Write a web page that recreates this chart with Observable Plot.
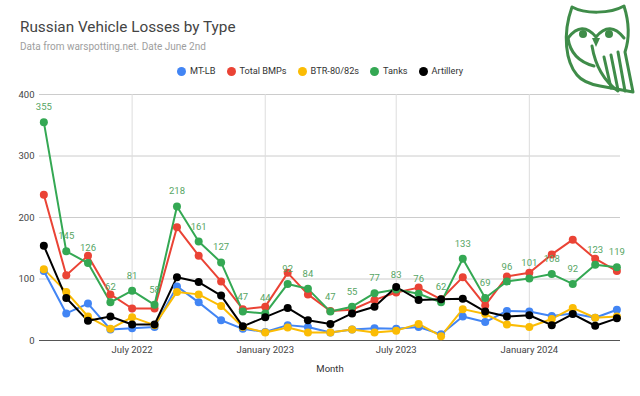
<!DOCTYPE html>
<html>
<head>
<meta charset="utf-8">
<script src="https://cdn.jsdelivr.net/npm/d3@7"></script>
<script src="https://cdn.jsdelivr.net/npm/@observablehq/plot@0.6"></script>
<style>
  html, body { margin: 0; padding: 0; background: #fff; }
  #wrap { position: relative; width: 640px; height: 396px; overflow: hidden; font-family: Roboto, "Noto Sans", sans-serif; }
  #title { position: absolute; left: 20px; top: 20px; font-size: 15.3px; line-height: 1; color: #444; white-space: nowrap; }
  #subtitle { position: absolute; left: 20px; top: 41.5px; font-size: 10px; line-height: 1; color: #9e9e9e; white-space: nowrap; }
  #legend { position: absolute; left: 0; top: 65px; width: 640px; display: flex; justify-content: center; align-items: center; font-size: 9.2px; line-height: 12px; color: #333; }
  .item { display: flex; align-items: center; margin: 0 5.5px; }
  .sw { width: 9px; height: 9px; border-radius: 50%; margin-right: 4px; }
  #chart { position: absolute; left: 0; top: 85px; }
  #owl { position: absolute; left: 555px; top: 0; }
</style>
</head>
<body>
<div id="wrap">
  <div id="title"></div>
  <div id="subtitle"></div>
  <div id="legend"></div>
  <div id="chart"></div>
  <svg id="owl" width="85" height="100" viewBox="555 0 85 100">
    <g fill="none" stroke="#3f8c49" stroke-width="3" stroke-linejoin="round" stroke-linecap="round">
      <path d="M572,7 C585,14 610,14 624,6 C630,25 629,40 625,52 L633,92 L600,86 C589,84 581,80 577,75 C566,62 562,35 572,7 Z"/>
      <path d="M568,38 Q582,20 596,37 Q610,20 624,38"/>
      <path d="M568,38 Q571,60 594,66"/>
      <path d="M592,46 Q597,76 618,91"/>
      <path d="M604,57 L611,88"/>
      <path d="M611,55 L618,90"/>
      <path d="M618,52 L625,91"/>
    </g>
    <g fill="#3f8c49">
      <circle cx="583" cy="34" r="4"/>
      <circle cx="609" cy="34" r="4"/>
      <path d="M592,38 L596,47 L600,38 Z"/>
    </g>
  </svg>
</div>
<script>
const titleText = "Russian Vehicle Losses by Type";
const subtitleText = "Data from warspotting.net. Date June 2nd";
const xAxisLabel = "Month";

const months = ["2022-03","2022-04","2022-05","2022-06","2022-07","2022-08","2022-09","2022-10","2022-11","2022-12",
  "2023-01","2023-02","2023-03","2023-04","2023-05","2023-06","2023-07","2023-08","2023-09","2023-10","2023-11","2023-12",
  "2024-01","2024-02","2024-03","2024-04","2024-05"];

const seriesNames = ["MT-LB", "Total BMPs", "BTR-80/82s", "Tanks", "Artillery"];
const seriesColors = ["#4285F4", "#EA4335", "#FBBC04", "#34A853", "#000000"];

const mtlb      = [113,44,60,18,20,22,88,62,33,19,14,25,22,13,18,20,19,22,10,39,30,48,47,40,44,37,50];
const bmps      = [237,106,138,75,52,52,184,138,96,51,55,110,75,48,50,66,78,86,67,103,57,104,110,140,164,133,113];
const btr       = [116,79,39,19,38,25,79,75,56,22,13,21,13,13,18,13,16,27,7,51,43,26,22,35,53,37,39];
const tanks     = [355,145,126,62,81,58,218,161,127,47,44,92,84,47,55,77,83,76,62,133,69,96,101,108,92,123,119];
const artillery = [154,69,32,39,26,26,103,95,73,23,38,53,33,27,44,55,87,66,67,68,47,39,41,25,43,24,36];

const yTicks = [0, 100, 200, 300, 400];
const xTickMonths = ["2022-07", "2023-01", "2023-07", "2024-01"];

const parse = d3.utcParse("%Y-%m");
const dates = months.map(parse);
const xTicks = xTickMonths.map(parse);
const seriesValues = [mtlb, bmps, btr, tanks, artillery];

const table = [];
seriesNames.forEach((name, s) => {
  seriesValues[s].forEach((v, i) => table.push({series: name, date: dates[i], value: v}));
});
const tankRows = tanks.map((v, i) => ({date: dates[i], value: v}));

document.getElementById("title").textContent = titleText;
document.getElementById("subtitle").textContent = subtitleText;
const legend = document.getElementById("legend");
seriesNames.forEach((name, i) => {
  const item = document.createElement("div");
  item.className = "item";
  const sw = document.createElement("span");
  sw.className = "sw";
  sw.style.background = seriesColors[i];
  const t = document.createElement("span");
  t.textContent = name;
  item.append(sw, t);
  legend.append(item);
});

const chart = Plot.plot({
  width: 640,
  height: 311,
  marginTop: 9,
  marginBottom: 56,
  marginLeft: 39,
  marginRight: 20,
  style: {fontFamily: "Roboto, sans-serif", fontSize: "9.5px", color: "#444", background: "transparent"},
  x: {type: "utc", domain: [new Date(Date.UTC(2022, 1, 23)), new Date(Date.UTC(2024, 4, 6))]},
  y: {domain: [0, 400]},
  color: {domain: seriesNames, range: seriesColors},
  marks: [
    Plot.gridY(yTicks.slice(1), {stroke: "#cccccc", strokeOpacity: 1}),
    Plot.gridX(xTicks, {stroke: "#dddddd", strokeOpacity: 1}),
    Plot.axisY(yTicks, {tickSize: 0, tickPadding: 5, label: null}),
    Plot.axisX(xTicks, {tickSize: 0, tickPadding: 6, tickFormat: d3.utcFormat("%B %Y"), label: null}),
    Plot.ruleY([0], {stroke: "#555", strokeWidth: 1}),
    Plot.text([xAxisLabel], {frameAnchor: "bottom", dy: 31, fill: "#333"}),
    Plot.line(table, {x: "date", y: "value", z: "series", stroke: "series", strokeWidth: 2}),
    Plot.dot(table, {x: "date", y: "value", fill: "series", r: 4}),
    Plot.text(tankRows, {x: "date", y: "value", text: d => String(d.value), dy: -15, fill: "#56a564", fontSize: 9.5})
  ]
});
document.getElementById("chart").append(chart);
</script>
</body>
</html>
